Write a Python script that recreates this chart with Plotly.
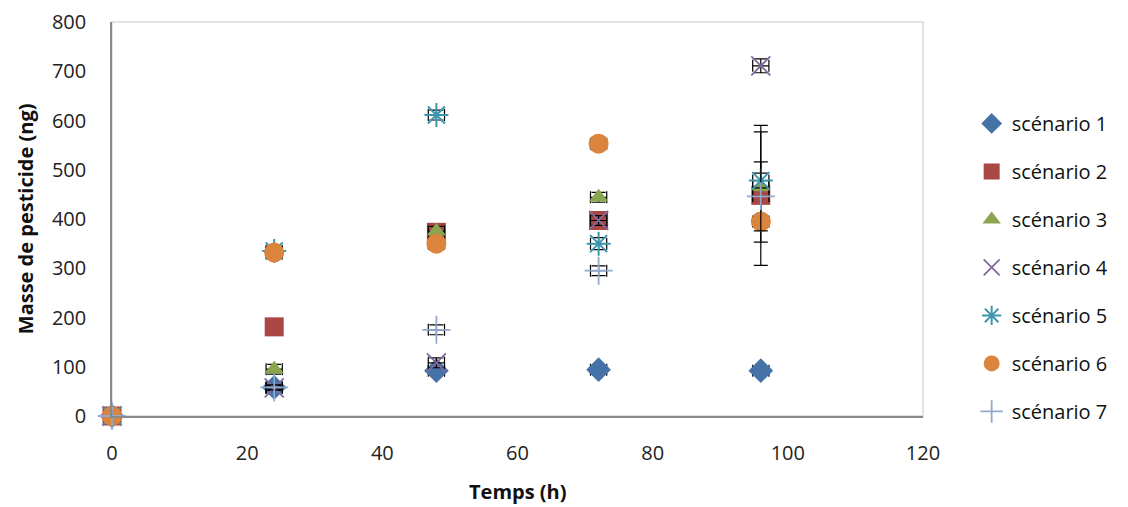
import plotly.graph_objects as go

temps = [0, 24, 48, 72, 96]
names = ["scénario 1", "scénario 2", "scénario 3", "scénario 4",
         "scénario 5", "scénario 6", "scénario 7"]
s1 = [0, 58, 92, 94, 92]
s2 = [0, 181, 373, 397, 448]
s3 = [0, 95, 375, 444, 465]
s4 = [0, 57, 108, 397, 711]
s5 = [0, 335, 611, 350, 478]
s6 = [0, 332, 350, 553, 395]
s7 = [0, 58, 175, 295, 446]
e1 = [0, 5, 8, 8, 8]
e2 = [0, 5, 10, 10, 142]
e3 = [0, 10, 10, 10, 112]
e4 = [0, 5, 10, 10, 14]
e5 = [0, 5, 10, 12, 15]
e6 = [0, 5, 5, 5, 5]
e7 = [0, 5, 10, 10, 70]
ex = [0, 1.2, 1.2, 1.2, 1.2]

series = [s1, s2, s3, s4, s5, s6, s7]
errs = [e1, e2, e3, e4, e5, e6, e7]
colors = ["#4572A7", "#AA4643", "#89A54E", "#80699B", "#3D96AE", "#DB843D", "#92A8CD"]
symbols = ["diamond", "square", "triangle-up", "x-thin-open", "asterisk-open",
           "circle", "cross-thin-open"]
sizes = [19, 19, 17, 19, 20, 20, 20]
lw = [0, 0, 0, 1.8, 2.0, 0, 1.8]

fig = go.Figure()
for i in range(7):
    fig.add_trace(go.Scatter(
        x=temps, y=series[i], mode="markers", name=names[i],
        legendgroup=names[i],
        marker=dict(symbol=symbols[i], size=sizes[i], color=colors[i],
                    line=dict(width=lw[i], color=colors[i])),
        error_y=dict(type="data", array=errs[i], color="black", thickness=1.2, width=7),
        error_x=dict(type="data", array=ex, color="black", thickness=1.2, width=6),
    ))

fig.update_layout(
    width=1128, height=507,
    margin=dict(l=112, r=205, t=22, b=91, autoexpand=False),
    paper_bgcolor="white", plot_bgcolor="white",
    font=dict(family="Open Sans, Liberation Sans, sans-serif", size=20, color="#222"),
    showlegend=True,
    legend=dict(x=1.060, xanchor="left", y=0.377, yanchor="middle",
                font=dict(size=20, color="#111"), tracegroupgap=19,
                itemsizing="trace", bgcolor="rgba(0,0,0,0)"),
    xaxis=dict(range=[0, 120], dtick=20, showgrid=False, zeroline=False,
               showline=True, linecolor="#898989", linewidth=1.5, mirror=False,
               ticks="outside", ticklen=18, tickcolor="rgba(0,0,0,0)",
               tickfont=dict(size=20, color="#222"), automargin=False),
    yaxis=dict(range=[0, 800], dtick=100, showgrid=False, zeroline=False,
               showline=True, linecolor="#898989", linewidth=1.5,
               ticks="outside", ticklen=20, tickcolor="rgba(0,0,0,0)",
               tickfont=dict(size=20, color="#222"), automargin=False),
    shapes=[dict(type="rect", xref="paper", yref="paper", x0=0, y0=0, x1=1, y1=1,
                 line=dict(color="#d9d9d9", width=1.5), layer="below")],
    annotations=[
        dict(text="<b>Temps (h)</b>", xref="paper", yref="paper", x=0.5, y=-0.192,
             xanchor="center", yanchor="middle", showarrow=False,
             font=dict(size=20, color="#111")),
        dict(text="<b>Masse de pesticide (ng)</b>", xref="paper", yref="paper",
             x=-0.107, y=0.5, xanchor="center", yanchor="middle", textangle=-90,
             showarrow=False, font=dict(size=20, color="#111")),
    ],
)
fig.update_traces(cliponaxis=False)
fig.write_html("out.html")
